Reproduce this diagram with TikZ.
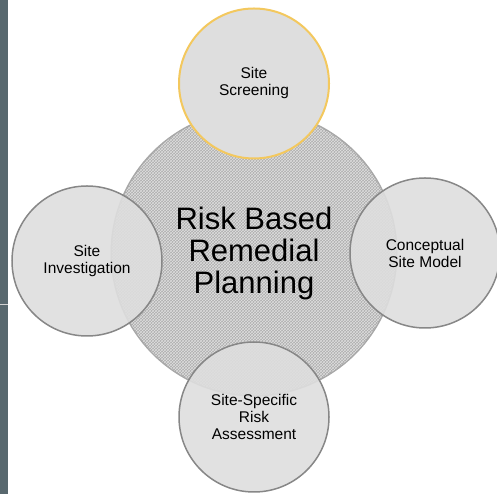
\documentclass[tikz,border=0pt]{standalone}
\usepackage{fontspec}
\setmainfont{Liberation Sans}
\usepackage{xcolor}
\usepackage{tikz}
\usetikzlibrary{positioning,patterns}

\definecolor{slate}{HTML}{58686E}
\definecolor{rim}{HTML}{A8A8A8}
\definecolor{hubfill}{HTML}{ADADAD}
\definecolor{disc}{HTML}{DEDEDE}
\definecolor{discline}{HTML}{878787}
\definecolor{gold}{HTML}{F3C85E}

\tikzset{
  hub/.style={circle, minimum size=284pt, inner sep=0pt, fill=hubfill,
    draw=rim, line width=3pt, align=center,
    postaction={pattern=crosshatch, pattern color=hubfill!40!white},
    font=\fontsize{31}{32}\selectfont},
  sat/.style={circle, minimum size=150pt, inner sep=0pt, fill=disc,
    fill opacity=0.9, text opacity=1, draw=discline, line width=1.5pt,
    align=center, font=\fontsize{15.5}{17}\selectfont},
}

\begin{document}
\begin{tikzpicture}[x=1pt, y=1pt]
            \useasboundingbox (0,0) rectangle (497,494);
            \fill[slate] (0,0) rectangle (8,494);
            \draw[gray!35, line width=1pt] (0,189) -- (8,189);

            \node [hub] (H) at (254,241) {Risk Based\\Remedial\\Planning};

            \node [sat, draw=gold, line width=2pt, fill opacity=1] (S)
                [above=169.5pt of H.center, anchor=center] {Site\\Screening};
            \node [sat] (I) [left=167pt of H.center, anchor=center, yshift=-8pt] {Site\\Investigation};
            \node [sat] (M) [right=171pt of H.center, anchor=center] {Conceptual\\Site Model};
            \node [sat] (A) [below=164pt of H.center, anchor=center] {Site-Specific\\Risk\\Assessment};
        \end{tikzpicture}
\end{document}
